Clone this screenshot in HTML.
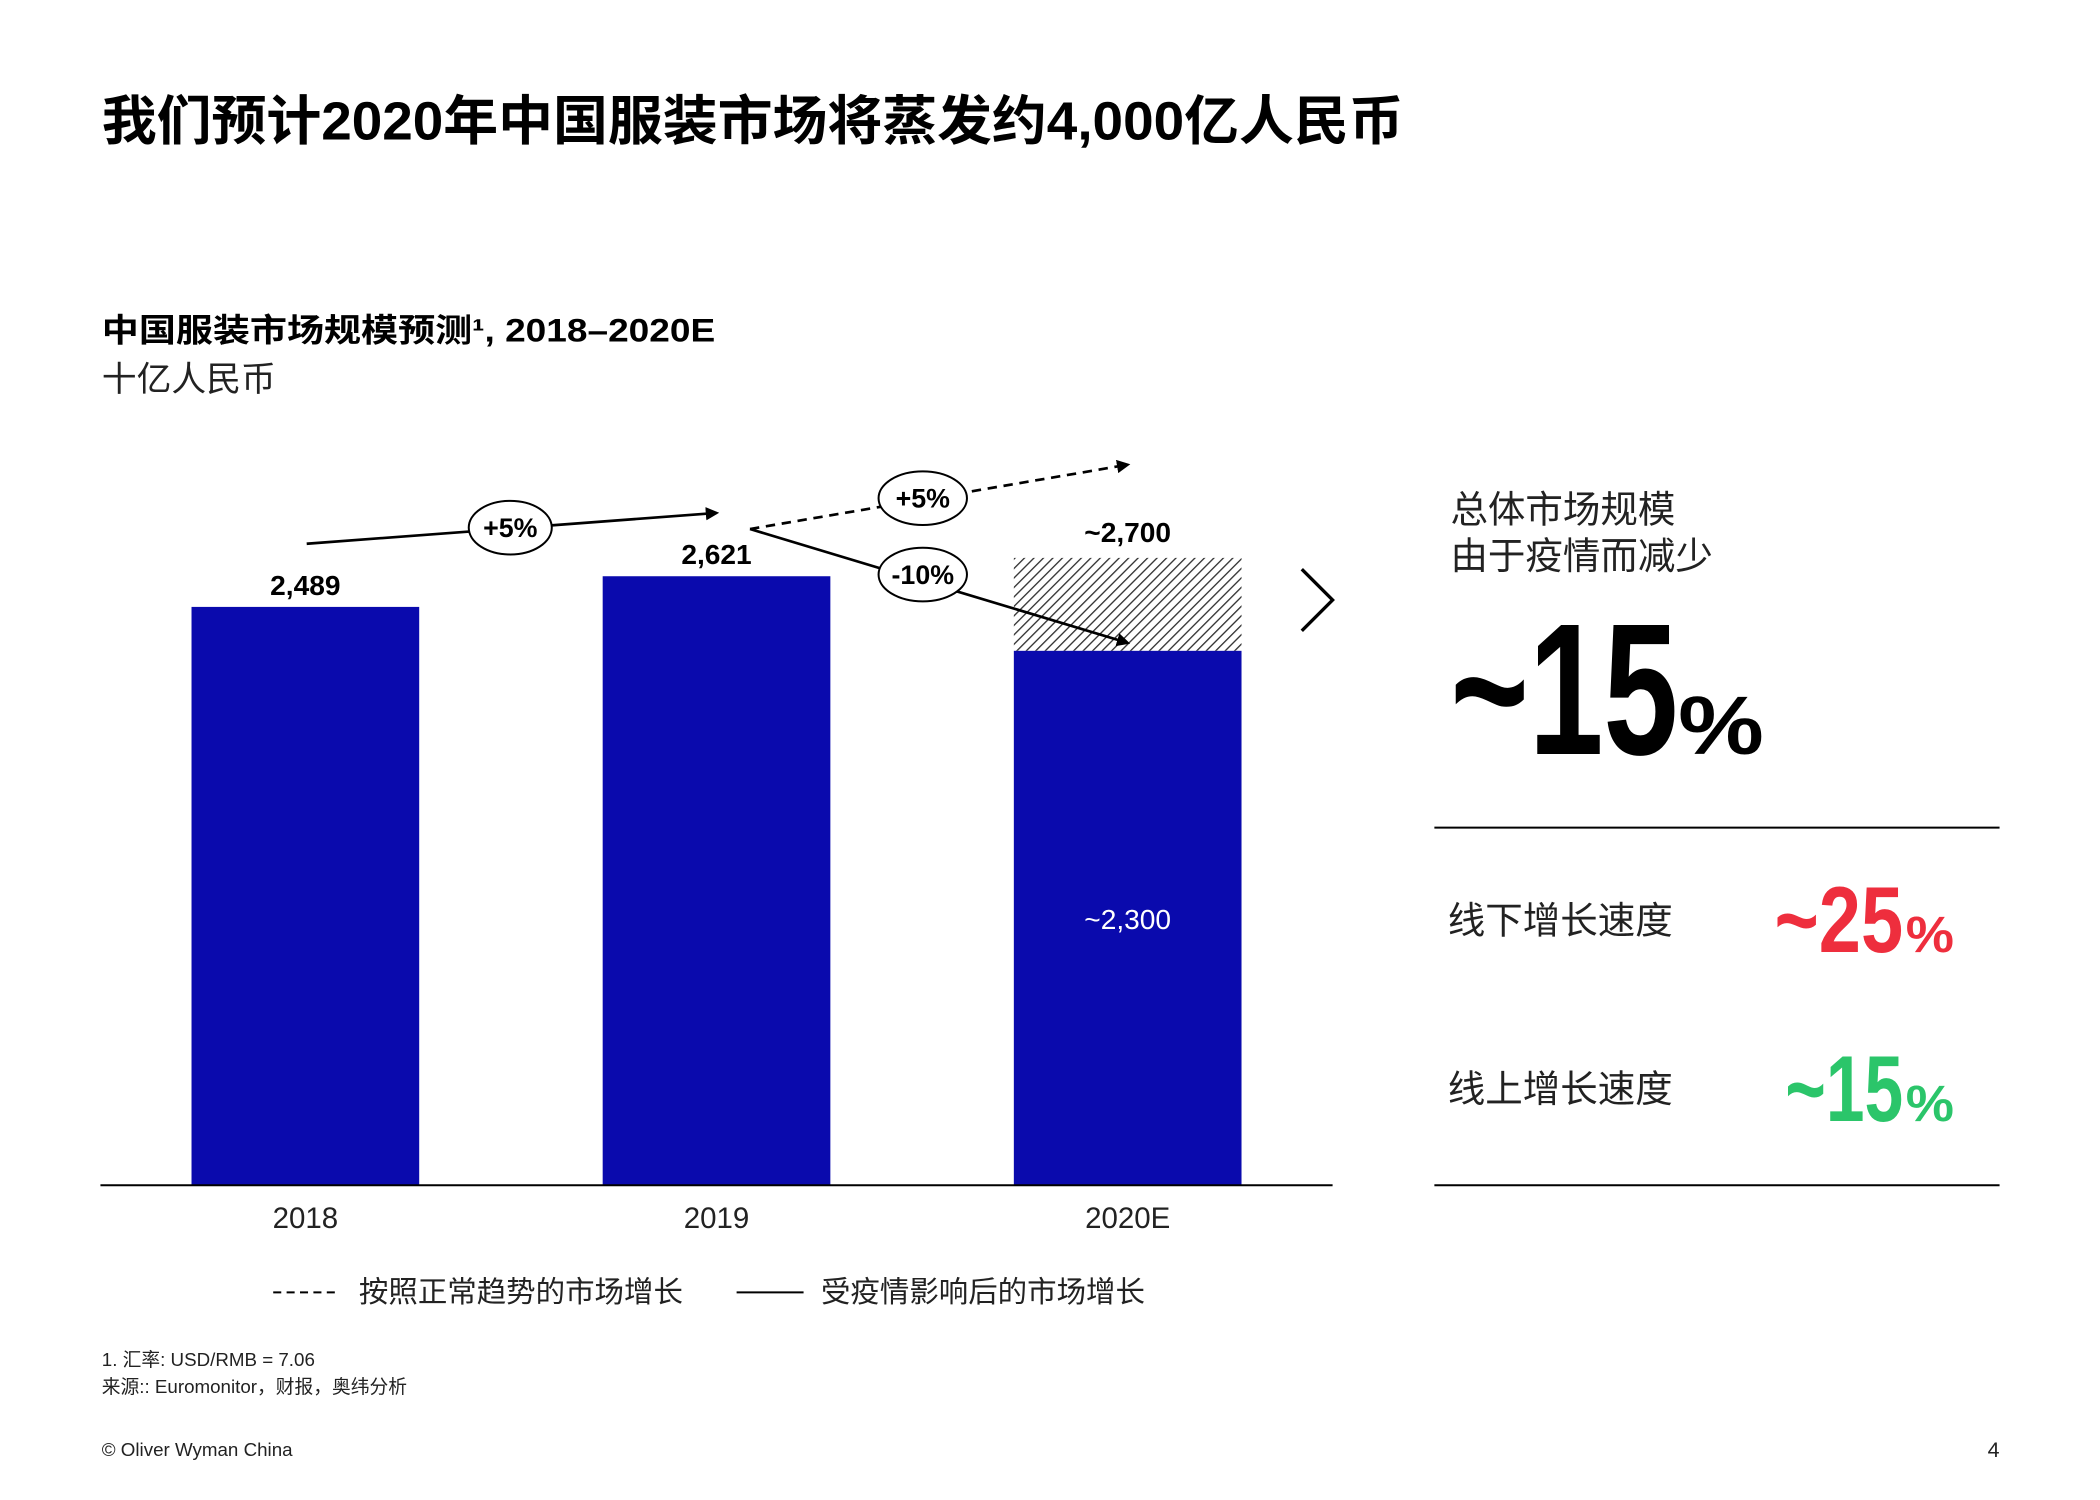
<!DOCTYPE html>
<html><head><meta charset="utf-8"><style>
html,body{margin:0;padding:0;background:#fff;}
svg{display:block;}
text{font-family:"Liberation Sans","Noto Sans CJK SC",sans-serif;}
.n{font-family:"Liberation Sans Narrow","Liberation Sans","Noto Sans CJK SC",sans-serif;}
</style></head><body>
<svg id="chart" width="2100" height="1500" viewBox="0 0 1568 1120" preserveAspectRatio="none" xmlns="http://www.w3.org/2000/svg">
<defs>
<pattern id="hatch" width="5" height="5" patternUnits="userSpaceOnUse" patternTransform="rotate(45)">
<rect width="5" height="5" fill="#fff"/><line x1="0" y1="0" x2="0" y2="5" stroke="#333" stroke-width="2"/>
</pattern>
<marker id="ah" markerWidth="10" markerHeight="10" refX="8" refY="5" orient="auto" markerUnits="userSpaceOnUse"><path d="M0,0 L10,5 L0,10 z" fill="#000"/></marker>
</defs>
<text x="76" y="104" font-size="40" font-weight="bold" fill="#000" textLength="972" lengthAdjust="spacingAndGlyphs">我们预计2020年中国服装市场将蒸发约4,000亿人民币</text>
<text x="76" y="255" font-size="24" font-weight="bold" textLength="458" lengthAdjust="spacingAndGlyphs">中国服装市场规模预测¹, 2018–2020E</text>
<text x="76" y="292" font-size="26" fill="#222">十亿人民币</text>
<g id="bars"></g>
<line x1="75" y1="885" x2="995" y2="885" stroke="#000" stroke-width="1.5"/>
<g id="xlabels"></g>
<line x1="229" y1="406" x2="535" y2="383" stroke="#000" stroke-width="2" marker-end="url(#ah)"/>
<ellipse cx="381" cy="394" rx="31" ry="20" fill="#fff" stroke="#000" stroke-width="1.5"/>
<text x="381" y="401" font-size="20" font-weight="bold" text-anchor="middle">+5%</text>
<line x1="560" y1="395" x2="842" y2="347" stroke="#000" stroke-width="2" stroke-dasharray="7,5" marker-end="url(#ah)"/>
<ellipse cx="689" cy="372" rx="33" ry="20" fill="#fff" stroke="#000" stroke-width="1.5"/>
<text x="689" y="379" font-size="20" font-weight="bold" text-anchor="middle">+5%</text>
<line x1="560" y1="395" x2="842" y2="480" stroke="#000" stroke-width="2" marker-end="url(#ah)"/>
<ellipse cx="689" cy="429" rx="33" ry="20" fill="#fff" stroke="#000" stroke-width="1.5"/>
<text x="689" y="436" font-size="20" font-weight="bold" text-anchor="middle">-10%</text>
<path d="M972,425 L995,448 L972,471" fill="none" stroke="#000" stroke-width="2.5"/>
<text x="1083" y="390" font-size="28" fill="#222">总体市场规模</text>
<text x="1083" y="425" font-size="28" fill="#222">由于疫情而减少</text>
<text class="n" x="1083" y="563" font-size="140" font-weight="bold" textLength="170" lengthAdjust="spacingAndGlyphs">~15</text>
<text class="n" x="1253" y="563" font-size="62" font-weight="bold" textLength="64" lengthAdjust="spacingAndGlyphs">%</text>
<line x1="1071" y1="618" x2="1493" y2="618" stroke="#000" stroke-width="1.5"/>
<text x="1081" y="697" font-size="28" fill="#222">线下增长速度</text>
<text class="n" x="1325" y="711" font-size="70" font-weight="bold" fill="#ee2e3d" textLength="96" lengthAdjust="spacingAndGlyphs">~25</text>
<text class="n" x="1423" y="711" font-size="38" font-weight="bold" fill="#ee2e3d" textLength="36" lengthAdjust="spacingAndGlyphs">%</text>
<text x="1081" y="823" font-size="28" fill="#222">线上增长速度</text>
<text class="n" x="1333" y="837" font-size="70" font-weight="bold" fill="#2bc56a" textLength="88" lengthAdjust="spacingAndGlyphs">~15</text>
<text class="n" x="1423" y="837" font-size="38" font-weight="bold" fill="#2bc56a" textLength="36" lengthAdjust="spacingAndGlyphs">%</text>
<line x1="1071" y1="885" x2="1493" y2="885" stroke="#000" stroke-width="1.5"/>
<line x1="204" y1="965" x2="252" y2="965" stroke="#000" stroke-width="1.5" stroke-dasharray="6,4"/>
<text x="268" y="972" font-size="22" fill="#222">按照正常趋势的市场增长</text>
<line x1="550" y1="965" x2="600" y2="965" stroke="#000" stroke-width="1.5"/>
<text x="613" y="972" font-size="22" fill="#222">受疫情影响后的市场增长</text>
<text x="76" y="1020" font-size="14" fill="#222">1. 汇率: USD/RMB = 7.06</text>
<text x="76" y="1040" font-size="14" fill="#222">来源::  Euromonitor，财报，奥纬分析</text>
<text x="76" y="1087" font-size="14" fill="#222">© Oliver Wyman China</text>
<text x="1493" y="1088" font-size="16" text-anchor="end" fill="#222">4</text>
</svg>
<script>
const categories = ["2018", "2019", "2020E"];
const actualValues = [2489, 2621, 2300];
const expectedValues = [null, null, 2700];
const valueLabels = ["2,489", "2,621", "~2,300"];
const expectedLabels = [null, null, "~2,700"];
const NS = "http://www.w3.org/2000/svg";
const baseY = 885, pxPerUnit = 0.1735, firstX = 143, step = 307, barW = 170;
function y(v){ return baseY - v * pxPerUnit; }
function x(i){ return firstX + i * step; }
const gb = document.getElementById('bars');
const gx = document.getElementById('xlabels');
function mk(tag, attrs, parent){ const e=document.createElementNS(NS,tag); for(const k in attrs) e.setAttribute(k,attrs[k]); parent.appendChild(e); return e; }
categories.forEach((c,i)=>{
  if(expectedValues[i]!=null){
    const h = mk('rect',{x:x(i),y:y(expectedValues[i]),width:barW,height:y(actualValues[i])-y(expectedValues[i]),fill:'url(#hatch)'},gb);
    
    
    const et = mk('text',{x:x(i)+barW/2,y:y(expectedValues[i])-12,'font-size':21,'font-weight':'bold','text-anchor':'middle'},gb);
    et.textContent = expectedLabels[i];
    
    
  }
  const r = mk('rect',{x:x(i),y:y(actualValues[i]),width:barW,height:baseY-y(actualValues[i]),fill:'#0a0aad'},gb);
  
  
  const inside = expectedValues[i]!=null;
  const t = mk('text',{x:x(i)+barW/2,y:inside?(y(actualValues[i])+baseY)/2+8:y(actualValues[i])-9,'font-size':21,'font-weight':inside?'normal':'bold','text-anchor':'middle',fill:inside?'#fff':'#000'},gb);
  t.textContent = valueLabels[i];
  
  
  const xl = mk('text',{x:x(i)+barW/2,y:917,'font-size':22,'text-anchor':'middle',fill:'#222'},gx);
  xl.textContent = c;
  
  
});
</script>
</body></html>
